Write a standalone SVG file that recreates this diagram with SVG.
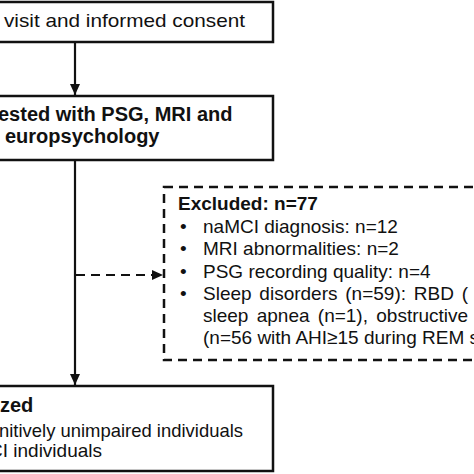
<svg xmlns="http://www.w3.org/2000/svg" width="474" height="474" viewBox="0 0 474 474">
  <style>
    .box { fill: #ffffff; stroke: #111111; stroke-width: 2.5; }
    .dbox { fill: #ffffff; stroke: #111111; stroke-width: 2.5; stroke-dasharray: 9 6; }
    .conn { fill: none; stroke: #111111; stroke-width: 2.2; }
    .dash { stroke-dasharray: 9 6; }
    .t { font-family: "Liberation Sans", Arial, sans-serif; font-size: 19px; fill: #111111; }
    .b { font-weight: bold; font-size: 20px; }
  </style>
  <defs>
    <marker id="ah" markerUnits="userSpaceOnUse" markerWidth="12" markerHeight="12" viewBox="0 0 12 12" refX="11" refY="6" orient="auto">
      <path d="M0,1 L11,6 L0,11 Z" fill="#111111"/>
    </marker>
  </defs>
  <rect width="474" height="474" fill="#ffffff"/>

  <g id="connectors">
    <line class="conn" x1="75" y1="42" x2="75" y2="95" marker-end="url(#ah)"/>
    <line class="conn" x1="75" y1="160" x2="75" y2="385" marker-end="url(#ah)"/>
    <line class="conn dash" x1="76" y1="275" x2="163" y2="275" marker-end="url(#ah)"/>
  </g>

  <g id="node-visit">
    <rect class="box" x="-10" y="2" width="283" height="40"/>
    <text class="t" x="4" y="27" textLength="241" lengthAdjust="spacingAndGlyphs">visit and informed consent</text>
  </g>

  <g id="node-tested">
    <rect class="box" x="-10" y="96" width="283" height="64"/>
    <text class="t b" x="-2" y="121">ested with PSG, MRI and</text>
    <text class="t b" x="5" y="143">europsychology</text>
  </g>

  <g id="node-excluded">
    <rect class="dbox" x="164" y="187" width="330" height="173"/>
    <text class="t b" x="178" y="210" style="font-size:19px">Excluded: n=77</text>
    <text class="t" x="180" y="233">•</text>
    <text class="t" x="203" y="233">naMCI diagnosis: n=12</text>
    <text class="t" x="180" y="255">•</text>
    <text class="t" x="203" y="255">MRI abnormalities: n=2</text>
    <text class="t" x="180" y="278">•</text>
    <text class="t" x="203" y="278">PSG recording quality: n=4</text>
    <text class="t" x="180" y="300">•</text>
    <text class="t" x="203" y="300" word-spacing="2.5">Sleep disorders (n=59): RBD (</text>
    <text class="t" x="203" y="322" word-spacing="3">sleep apnea (n=1), obstructive</text>
    <text class="t" x="203" y="344">(n=56 with AHI≥15 during REM s</text>
  </g>

  <g id="node-analyzed">
    <rect class="box" x="-10" y="386" width="283" height="85"/>
    <text class="t b" x="0" y="412">zed</text>
    <text class="t" x="-1" y="437" textLength="244" lengthAdjust="spacingAndGlyphs">nitively unimpaired individuals</text>
    <text class="t" x="-11" y="457">CI individuals</text>
  </g>
</svg>
